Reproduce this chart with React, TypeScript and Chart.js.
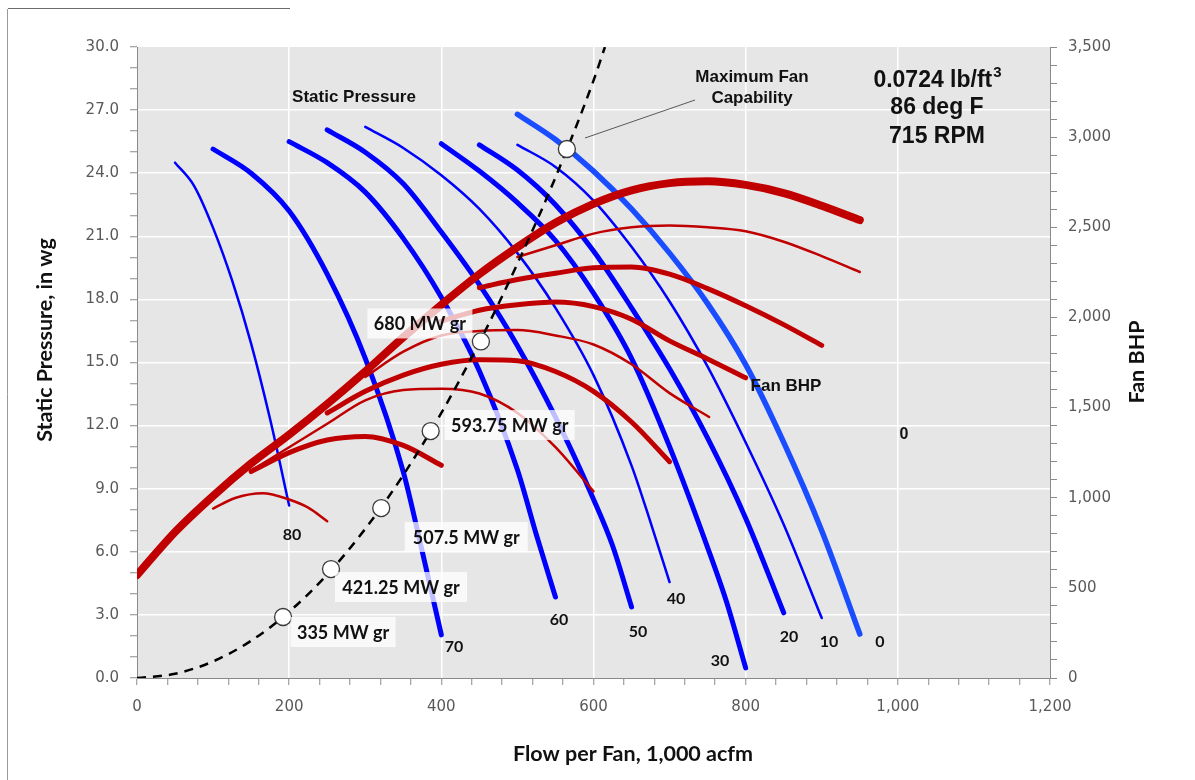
import React, { useEffect, useRef } from 'react';
import { Chart, registerables } from 'chart.js';

Chart.register(...registerables);

// ---- Static pressure curves (flow, 1,000 acfm -> static pressure, in wg), by vane position
const flow80 = [50, 75, 100, 125, 150, 175, 200];
const sp80 = [24.5, 23.4, 21.4, 18.9, 15.9, 12.3, 8.2];
const flow70 = [100, 150, 200, 250, 300, 350, 375, 400];
const sp70 = [25.15, 24.0, 22.2, 19.2, 15.2, 9.8, 6.0, 2.05];
const flow60 = [200, 250, 300, 350, 400, 450, 500, 525, 550];
const sp60 = [25.5, 24.5, 23.1, 20.9, 18.1, 14.6, 9.9, 6.8, 3.85];
const flow50 = [250, 300, 350, 400, 450, 500, 550, 600, 625, 650];
const sp50 = [26.06, 25.0, 23.5, 21.2, 18.7, 15.8, 12.4, 8.5, 6.3, 3.38];
const flow40 = [300, 350, 400, 450, 500, 550, 600, 650, 675, 700];
const sp40 = [26.2, 25.2, 23.9, 22.3, 20.2, 17.6, 14.4, 10.1, 7.4, 4.56];
const flow30 = [400, 450, 500, 550, 600, 650, 700, 750, 775, 800];
const sp30 = [25.4, 24.1, 22.6, 20.8, 18.3, 15.2, 11.0, 6.2, 3.6, 0.48];
const flow20 = [450, 500, 550, 600, 650, 700, 750, 800, 850];
const sp20 = [25.35, 24.15, 22.5, 20.3, 17.6, 14.7, 11.4, 7.6, 3.1];
const flow10 = [500, 550, 600, 650, 700, 750, 800, 850, 900];
const sp10 = [25.35, 24.3, 22.7, 20.5, 17.9, 14.8, 11.2, 7.3, 2.85];
const flow0 = [500, 550, 600, 650, 700, 750, 800, 850, 900, 950];
const sp0 = [26.8, 25.6, 24.1, 22.3, 20.2, 17.8, 14.9, 11.2, 7.0, 2.09];

// ---- Fan BHP curves (flow -> BHP, right axis)
const bFlow0 = [0, 50, 100, 150, 200, 250, 300, 350, 400, 450, 500, 550, 600, 650, 700, 750, 800, 850, 900, 950];
const bhp0 = [571, 810, 1010, 1190, 1350, 1520, 1700, 1890, 2070, 2240, 2390, 2525, 2630, 2705, 2745, 2755, 2735, 2690, 2620, 2540];
const bFlow10 = [500, 550, 600, 650, 700, 750, 800, 850, 900, 950];
const bhp10 = [2335, 2400, 2465, 2500, 2510, 2500, 2478, 2420, 2340, 2252];
const bFlow20 = [450, 500, 550, 600, 650, 700, 750, 800, 850, 900];
const bhp20 = [2165, 2210, 2245, 2275, 2280, 2240, 2160, 2065, 1960, 1845];
const bFlow30 = [400, 450, 500, 550, 600, 650, 700, 750, 800];
const bhp30 = [1980, 2040, 2070, 2085, 2060, 1990, 1870, 1770, 1665];
const bFlow40 = [300, 350, 400, 450, 500, 550, 600, 650, 700, 752];
const bhp40 = [1670, 1810, 1900, 1925, 1930, 1900, 1850, 1740, 1580, 1448];
const bFlow50 = [250, 300, 350, 400, 450, 500, 550, 600, 650, 700];
const bhp50 = [1470, 1590, 1680, 1740, 1765, 1760, 1700, 1590, 1420, 1200];
const bFlow60 = [150, 200, 250, 300, 350, 400, 450, 500, 550, 600];
const bhp60 = [1150, 1280, 1410, 1540, 1597, 1605, 1578, 1470, 1280, 1035];
const bFlow70 = [150, 200, 250, 300, 350, 400];
const bhp70 = [1145, 1250, 1320, 1340, 1290, 1180];
const bFlow80 = [100, 130, 165, 200, 225, 250];
const bhp80 = [940, 1000, 1025, 990, 945, 870];

// ---- System resistance curve and operating points
const sysFlow = [0, 50, 100, 150, 200, 250, 300, 350, 400, 450, 500, 550, 600, 615];
const sysSp = [0, 0.2, 0.79, 1.77, 3.15, 4.92, 7.09, 9.65, 12.6, 15.95, 19.7, 23.8, 28.4, 30.0];
const opFlow = [192, 255, 321, 386, 452, 565];
const opSp = [2.9, 5.18, 8.08, 11.74, 16.0, 25.15];
const opLabels = ['335 MW gr', '421.25 MW gr', '507.5 MW gr', '593.75 MW gr', '680 MW gr'];

const vaneLabels = ['80', '70', '60', '50', '40', '30', '20', '10', '0', '0'];

const zip = (xs: number[], ys: number[]) => xs.map((x, i) => ({ x, y: ys[i] }));

const BLUE = '#0000ff';
const LBLUE = '#1a4dff';
const RED = '#c00000';

function line(xs: number[], ys: number[], color: string, width: number, axis: string, order: number) {
  return {
    data: zip(xs, ys),
    borderColor: color,
    backgroundColor: color,
    borderWidth: width,
    pointRadius: 0,
    fill: false,
    yAxisID: axis,
    order,
    cubicInterpolationMode: 'monotone' as const,
    borderCapStyle: 'round' as const,
    borderJoinStyle: 'round' as const,
  };
}

const textPlugin = {
  id: 'fanText',
  beforeDraw(chart: any) {
    const { ctx, chartArea: a } = chart;
    ctx.save();
    ctx.fillStyle = '#e6e6e6';
    ctx.fillRect(a.left, a.top, a.right - a.left, a.bottom - a.top);
    ctx.restore();
  },
  afterDatasetsDraw(chart: any) {
    const { ctx } = chart;
    const xs = chart.scales.x;
    const ys = chart.scales.y;
    ctx.save();
    // leader line for maximum fan capability
    ctx.strokeStyle = '#595959';
    ctx.lineWidth = 1;
    ctx.beginPath();
    ctx.moveTo(585, 138);
    ctx.lineTo(695, 100);
    ctx.stroke();

    // operating point labels with translucent boxes
    const offs = [[60, 15, 105], [70, 18, 132], [85, 29, 123], [79, -6, 130], [-61, -18, 105]];
    ctx.font = 'bold 18px Lato';
    ctx.textAlign = 'center';
    ctx.textBaseline = 'middle';
    opLabels.forEach((t, i) => {
      const px = xs.getPixelForValue(opFlow[i]);
      const py = ys.getPixelForValue(opSp[i]);
      const [dx, dy, w] = offs[i];
      const cx = px + dx;
      const cy = py + dy;
      ctx.fillStyle = 'rgba(255,255,255,0.75)';
      ctx.fillRect(cx - w / 2, cy - 15, w, 30);
      ctx.fillStyle = '#111';
      ctx.fillText(t, cx, cy + 1);
    });
    ctx.restore();
  },
  afterDraw(chart: any) {
    const { ctx } = chart;
    ctx.save();
    ctx.fillStyle = '#111';
    ctx.textAlign = 'center';
    ctx.textBaseline = 'middle';

    ctx.font = 'bold 17px "Liberation Sans"';
    ctx.fillText('Static Pressure', 354, 97);
    ctx.fillText('Maximum Fan', 752, 77);
    ctx.fillText('Capability', 752, 98);
    ctx.fillText('Fan BHP', 786, 386);
    ctx.font = 'bold 16px "Liberation Sans"';
    ctx.fillText(vaneLabels[9], 904, 435);

    // density / temperature / speed block
    ctx.font = 'bold 23px "Liberation Sans"';
    const l1 = '0.0724 lb/ft';
    const w1 = ctx.measureText(l1).width;
    ctx.font = 'bold 15px "Liberation Sans"';
    const w3 = ctx.measureText('3').width;
    const sx = 937 - (w1 + w3) / 2;
    ctx.textAlign = 'left';
    ctx.font = 'bold 23px "Liberation Sans"';
    ctx.fillText(l1, sx, 81);
    ctx.font = 'bold 15px "Liberation Sans"';
    ctx.fillText('3', sx + w1 + 1, 73);
    ctx.textAlign = 'center';
    ctx.font = 'bold 23px "Liberation Sans"';
    ctx.fillText('86 deg F', 937, 108);
    ctx.fillText('715 RPM', 937, 137);

    // vane position labels
    ctx.font = 'bold 16px Lato';
    const vpos = [[292, 535], [454, 647], [559, 620], [638, 632], [676, 599], [720, 661], [789, 637], [829, 642], [880, 642]];
    vpos.forEach((p, i) => ctx.fillText(vaneLabels[i], p[0], p[1]));

    // axis titles
    ctx.font = 'bold 21.5px Lato';
    ctx.fillText('Flow per Fan, 1,000 acfm', 633, 754);
    ctx.save();
    ctx.translate(45, 340);
    ctx.rotate(-Math.PI / 2);
    ctx.fillText('Static Pressure, in wg', 0, 0);
    ctx.restore();
    ctx.save();
    ctx.translate(1137, 362);
    ctx.rotate(-Math.PI / 2);
    ctx.fillText('Fan BHP', 0, 0);
    ctx.restore();

    // frame remnants
    ctx.strokeStyle = '#9a9a9a';
    ctx.lineWidth = 1;
    ctx.beginPath();
    ctx.moveTo(7.5, 9);
    ctx.lineTo(7.5, 780);
    ctx.stroke();
    ctx.strokeStyle = '#6a6a6a';
    ctx.beginPath();
    ctx.moveTo(8, 8.5);
    ctx.lineTo(290, 8.5);
    ctx.stroke();
    ctx.restore();
  },
};

const tickFont = { family: '"DejaVu Sans"', size: 15 };

export default function App() {
  const ref = useRef<HTMLCanvasElement | null>(null);
  useEffect(() => {
    if (!ref.current) return;
    const datasets: any[] = [
      line(flow80, sp80, BLUE, 2.5, 'y', 5),
      line(flow70, sp70, BLUE, 5, 'y', 5),
      line(flow60, sp60, BLUE, 5, 'y', 5),
      line(flow50, sp50, BLUE, 5, 'y', 5),
      line(flow40, sp40, BLUE, 2.5, 'y', 5),
      line(flow30, sp30, BLUE, 5, 'y', 5),
      line(flow20, sp20, BLUE, 5, 'y', 5),
      line(flow10, sp10, BLUE, 2.5, 'y', 5),
      line(flow0, sp0, LBLUE, 5.5, 'y', 5),
      line(bFlow0, bhp0, RED, 8, 'y2', 4),
      line(bFlow10, bhp10, RED, 2.5, 'y2', 4),
      line(bFlow20, bhp20, RED, 5, 'y2', 4),
      line(bFlow30, bhp30, RED, 5, 'y2', 4),
      line(bFlow40, bhp40, RED, 2.5, 'y2', 4),
      line(bFlow50, bhp50, RED, 5, 'y2', 4),
      line(bFlow60, bhp60, RED, 2.5, 'y2', 4),
      line(bFlow70, bhp70, RED, 5, 'y2', 4),
      line(bFlow80, bhp80, RED, 2.5, 'y2', 4),
      { ...line(sysFlow, sysSp, '#000000', 2.5, 'y', 2), borderDash: [9, 7], borderCapStyle: 'butt' },
      {
        data: zip(opFlow, opSp),
        showLine: false,
        pointRadius: 8.5,
        pointHoverRadius: 8.5,
        pointBackgroundColor: '#ffffff',
        pointBorderColor: '#3a3a3a',
        pointBorderWidth: 1.3,
        yAxisID: 'y',
        order: 1,
      },
    ];
    const chart = new Chart(ref.current, {
      type: 'line',
      data: { datasets },
      plugins: [textPlugin],
      options: {
        animation: false,
        responsive: false,
        devicePixelRatio: 1,
        layout: { padding: { top: 47, left: 0, right: 0, bottom: 0 } },
        plugins: { legend: { display: false }, tooltip: { enabled: false } },
        scales: {
          x: {
            type: 'linear',
            min: 0,
            max: 1200,
            afterFit: (s: any) => { s.height = 102; },
            ticks: {
              stepSize: 40,
              autoSkip: false,
              maxRotation: 0,
              padding: 13,
              color: '#595959',
              font: tickFont,
              callback: (v: any) => (Math.round(v) % 200 === 0 ? Number(v).toLocaleString('en-US') : ''),
            },
            grid: {
              color: (c: any) => {
                const v = Math.round(c.tick ? c.tick.value : 0);
                return v % 200 === 0 && v > 0 && v < 1200 ? '#ffffff' : 'rgba(0,0,0,0)';
              },
              lineWidth: 1.5,
              tickColor: '#8a8a8a',
              tickWidth: 1,
              tickLength: 7,
            },
            border: { color: '#8a8a8a', width: 1 },
          },
          y: {
            type: 'linear',
            position: 'left',
            min: 0,
            max: 30,
            afterFit: (s: any) => { s.width = 137; },
            ticks: {
              stepSize: 1,
              autoSkip: false,
              padding: 11,
              color: '#595959',
              font: tickFont,
              callback: (v: any) => (Math.round(v) % 3 === 0 ? Number(v).toFixed(1) : ''),
            },
            grid: {
              color: (c: any) => {
                const v = Math.round(c.tick ? c.tick.value : 0);
                return v % 3 === 0 && v > 0 && v < 30 ? '#ffffff' : 'rgba(0,0,0,0)';
              },
              lineWidth: 1.5,
              tickColor: '#8a8a8a',
              tickWidth: 1,
              tickLength: 7,
            },
            border: { color: '#8a8a8a', width: 1 },
          },
          y2: {
            type: 'linear',
            position: 'right',
            min: 0,
            max: 3500,
            afterFit: (s: any) => { s.width = 145; },
            ticks: {
              stepSize: 100,
              autoSkip: false,
              padding: 11,
              color: '#595959',
              font: tickFont,
              callback: (v: any) => (Math.round(v) % 500 === 0 ? Number(v).toLocaleString('en-US') : ''),
            },
            grid: {
              drawOnChartArea: false,
              tickColor: '#8a8a8a',
              tickWidth: 1,
              tickLength: 7,
            },
            border: { color: '#8a8a8a', width: 1 },
          },
        },
      } as any,
    });
    return () => chart.destroy();
  }, []);
  return (
    <div style={{ position: 'absolute', left: 0, top: 0, width: 1195, height: 780, background: '#ffffff' }}>
      <canvas ref={ref} width={1195} height={780} style={{ display: 'block', width: 1195, height: 780 }} />
    </div>
  );
}
